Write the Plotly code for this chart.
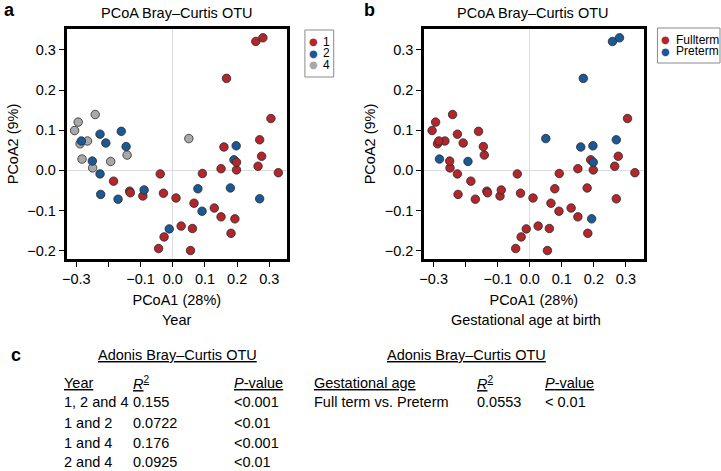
import plotly.graph_objects as go

# PCoA (Bray-Curtis, OTU) sample coordinates
pc1 = [-0.241, -0.294, -0.305, -0.288, -0.265, -0.282, -0.249, -0.193, -0.142, 0.050,
       0.258, 0.280, 0.167, 0.305, 0.159, 0.270, 0.276, 0.198, 0.150, 0.265,
       0.328, 0.092, 0.010, 0.066, 0.129, 0.150, 0.193, 0.026, 0.061, 0.181,
       0.055, -0.184, -0.134, -0.132, -0.093, -0.039, -0.029, -0.027, -0.044,
       0.197, 0.190, 0.078, 0.179, 0.091, 0.270, -0.284, -0.226, -0.208, -0.160,
       -0.145, -0.250, -0.226, -0.224, -0.170, -0.089, -0.011,
       0.198]
pc2 = [0.139, 0.120, 0.099, 0.066, 0.073, 0.028, 0.006, 0.022, 0.038, 0.079,
       0.321, 0.330, 0.229, 0.129, 0.058, 0.076, 0.035, 0.001, 0.004, 0.010,
       -0.006, -0.008, -0.069, -0.082, -0.094, -0.116, -0.121, -0.139, -0.145, -0.157,
       -0.200, -0.027, -0.052, -0.056, -0.064, -0.009, -0.057, -0.166, -0.195,
       0.061, 0.026, -0.046, -0.044, -0.102, -0.071, 0.073, 0.090, 0.068, 0.097,
       0.059, 0.023, -0.009, -0.060, -0.072, -0.049, -0.146,
       0.020]
year = [4, 4, 4, 4, 4, 4, 4, 4, 4, 4,
        1, 1, 1, 1, 1, 1, 1, 1, 1, 1,
        1, 1, 1, 1, 1, 1, 1, 1, 1, 1,
        1, 1, 1, 1, 1, 1, 1, 1, 1,
        2, 2, 2, 2, 2, 2, 2, 2, 2, 2,
        2, 2, 2, 2, 2, 2, 2,
        1]
gestation = ["Fullterm", "Fullterm", "Fullterm", "Fullterm", "Fullterm", "Preterm", "Fullterm", "Preterm", "Fullterm", "Preterm",
             "Preterm", "Preterm", "Preterm", "Fullterm", "Preterm", "Preterm", "Fullterm", "Fullterm", "Fullterm", "Fullterm",
             "Fullterm", "Fullterm", "Fullterm", "Fullterm", "Fullterm", "Fullterm", "Preterm", "Fullterm", "Fullterm", "Fullterm",
             "Fullterm", "Fullterm", "Fullterm", "Fullterm", "Fullterm", "Fullterm", "Fullterm", "Fullterm", "Fullterm",
             "Preterm", "Fullterm", "Fullterm", "Fullterm", "Fullterm", "Fullterm", "Fullterm", "Fullterm", "Fullterm", "Fullterm",
             "Fullterm", "Fullterm", "Fullterm", "Fullterm", "Fullterm", "Fullterm", "Fullterm",
             "Preterm"]

year_levels = [1, 2, 4]
gestation_levels = ["Fullterm", "Preterm"]

x_ticks = [-0.3, -0.1, 0.0, 0.1, 0.2, 0.3]
x_tick_labels = ["\u22120.3", "\u22120.1", "0.0", "0.1", "0.2", "0.3"]
x_minor_ticks = [-0.2]          # tick mark without a label
y_ticks = [-0.2, -0.1, 0.0, 0.1, 0.2, 0.3]
y_tick_labels = ["\u22120.2", "\u22120.1", "0.0", "0.1", "0.2", "0.3"]

# Adonis table (panel c)
year_pairs = ["1, 2 and 4", "1 and 2", "1 and 4", "2 and 4"]
year_r2 = ["0.155", "0.0722", "0.176", "0.0925"]
year_p = ["<0.001", "<0.01", "<0.001", "<0.01"]
gest_pairs = ["Full term vs. Preterm"]
gest_r2 = ["0.0553"]
gest_p = ["< 0.01"]

RED, BLUE, GRAY = "#b3262b", "#1b5996", "#a9a9a9"
year_colors = {1: RED, 2: BLUE, 4: GRAY}
gest_colors = {"Fullterm": RED, "Preterm": BLUE}

W, H = 721, 471
FONT = "Liberation Sans, Arial, sans-serif"


def fx(p):
    return p / W


def fy(p):
    return 1 - p / H


fig = go.Figure()

fig.add_trace(go.Scatter(
    x=pc1, y=pc2, mode="markers", xaxis="x", yaxis="y", showlegend=False,
    marker=dict(size=8.5, color=[year_colors[v] for v in year],
                line=dict(color="#2a2a2a", width=0.8)),
    text=[f"Year {v}" for v in year],
))
fig.add_trace(go.Scatter(
    x=pc1, y=pc2, mode="markers", xaxis="x2", yaxis="y2", showlegend=False,
    marker=dict(size=8.5, color=[gest_colors[v] for v in gestation],
                line=dict(color="#2a2a2a", width=0.8)),
    text=gestation,
))

axis_common = dict(
    showline=True, linecolor="black", linewidth=2.5, mirror=True,
    ticks="outside", ticklen=5, tickwidth=1, tickcolor="black",
    showgrid=False, zeroline=True, zerolinecolor="#dcdcdc", zerolinewidth=1,
    tickfont=dict(family=FONT, size=14.5, color="black"),
)
x_common = dict(axis_common, range=[-0.330, 0.355], tickmode="array",
                tickvals=x_ticks, ticktext=x_tick_labels,
                minor=dict(tickvals=x_minor_ticks, ticks="outside", ticklen=5,
                           tickwidth=1, tickcolor="black", showgrid=False),
                title=dict(text="PCoA1 (28%)", standoff=9,
                           font=dict(family=FONT, size=14.5, color="black")))
y_common = dict(axis_common, range=[-0.221, 0.352], tickmode="array",
                tickvals=y_ticks, ticktext=y_tick_labels,
                domain=[fy(259), fy(29)],
                title=dict(text="PCoA2 (9%)", standoff=6,
                           font=dict(family=FONT, size=14.5, color="black")))

fig.update_layout(
    width=W, height=H,
    margin=dict(l=0, r=0, t=0, b=0),
    paper_bgcolor="white", plot_bgcolor="white",
    font=dict(family=FONT, color="black"),
    xaxis=dict(x_common, domain=[fx(62), fx(284)], anchor="y"),
    yaxis=dict(y_common, anchor="x"),
    xaxis2=dict(x_common, domain=[fx(422), fx(643)], anchor="y2"),
    yaxis2=dict(y_common, anchor="x2"),
)

ann = []
shapes = []


def text(x, y, s, size=14.5, anchor="center", color="black", family=FONT):
    ann.append(dict(x=fx(x), y=fy(y), xref="paper", yref="paper", text=s,
                    showarrow=False, xanchor=anchor, yanchor="middle",
                    font=dict(family=family, size=size, color=color)))


# panel letters and titles
text(5, 10, "<b>a</b>", size=18)
text(367, 10, "<b>b</b>", size=18)
text(11, 355, "<b>c</b>", size=18)
text(173, 13, "PCoA Bray\u2013Curtis OTU")
text(532, 13, "PCoA Bray\u2013Curtis OTU")
text(173, 320, "Year")
text(525, 320, "Gestational age at birth")


# legends (drawn by hand so they stay as compact as in the original)
def legend(x0, y0, x1, y1, labels, colors, ys):
    shapes.append(dict(type="rect", xref="paper", yref="paper",
                       x0=fx(x0), x1=fx(x1), y0=fy(y1), y1=fy(y0),
                       line=dict(color="#8a8a8a", width=1), fillcolor="white"))
    for lab, col, yy in zip(labels, colors, ys):
        text(x0 + 8.5, yy, "\u25cf", size=10, color=col, family="DejaVu Sans")
        text(x0 + 16.5, yy, str(lab), size=12, anchor="left")


legend(302, 30, 331, 77, year_levels, [year_colors[v] for v in year_levels], [42, 53.5, 65])
legend(657, 28, 720, 63, gestation_levels, [gest_colors[v] for v in gestation_levels], [40, 51.5])

# panel c: Adonis tables
text(174, 355, "<u>Adonis Bray\u2013Curtis OTU</u>")
text(465, 355, "<u>Adonis Bray\u2013Curtis OTU</u>")

header_y = 383
row_y = [402, 423, 443, 462]
cols_left = [57, 127, 229]
cols_right = [309, 473, 542]
headers_left = ["<u>Year</u>", "<u><i>R</i><sup>2</sup></u>", "<u><i>P</i>-value</u>"]
headers_right = ["<u>Gestational age</u>", "<u><i>R</i><sup>2</sup></u>", "<u><i>P</i>-value</u>"]
for cx, h in zip(cols_left, headers_left):
    text(cx, header_y, h, anchor="left")
for cx, h in zip(cols_right, headers_right):
    text(cx, header_y, h, anchor="left")
for yy, a, b, c in zip(row_y, year_pairs, year_r2, year_p):
    for cx, s in zip(cols_left, [a, b, c]):
        text(cx, yy, s, anchor="left")
for yy, a, b, c in zip(row_y, gest_pairs, gest_r2, gest_p):
    for cx, s in zip(cols_right, [a, b, c]):
        text(cx, yy, s, anchor="left")

fig.update_layout(annotations=ann, shapes=shapes)

# page body has a default 8px margin; drop it so the figure sits at the corner
fig.write_html("out.html", config={"displayModeBar": False},
               post_script="document.body.style.margin='0';")
